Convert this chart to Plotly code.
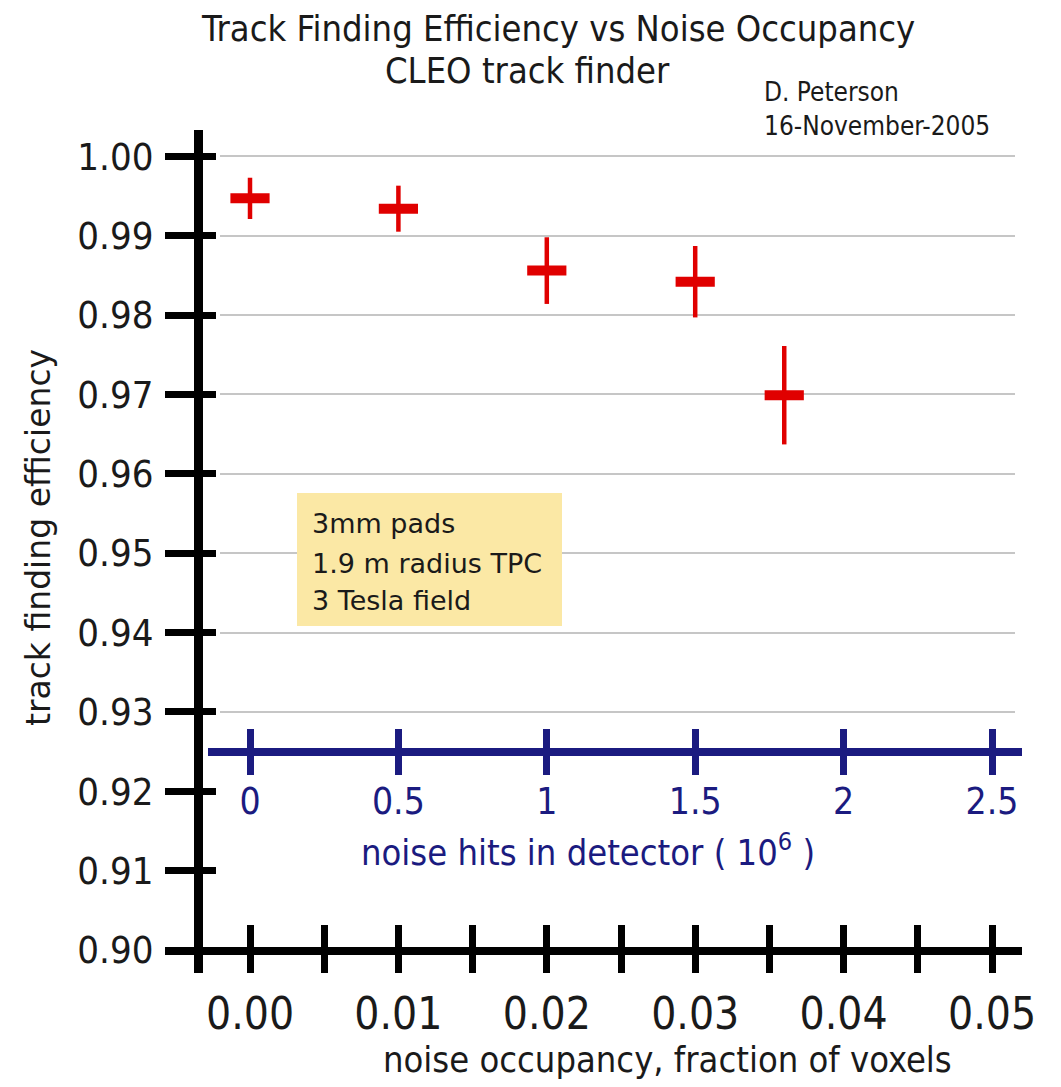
import plotly.graph_objects as go

W, H = 1045, 1071   # figure size; with the page's 8 px body margin it fills 1061 x 1087
PAGE_OFF = 8

# ---------------- data ----------------
occupancy = [0.000, 0.010, 0.020, 0.030, 0.036]
efficiency = [0.9947, 0.9934, 0.9856, 0.9842, 0.9699]
eff_err = [0.0026, 0.0029, 0.0042, 0.0045, 0.0062]

occ_ticks = [0.000, 0.005, 0.010, 0.015, 0.020, 0.025, 0.030, 0.035, 0.040, 0.045, 0.050]
occ_labels = ["0.00", "", "0.01", "", "0.02", "", "0.03", "", "0.04", "", "0.05"]
eff_ticks = [0.90, 0.91, 0.92, 0.93, 0.94, 0.95, 0.96, 0.97, 0.98, 0.99, 1.00]
eff_labels = ["0.90", "0.91", "0.92", "0.93", "0.94", "0.95", "0.96", "0.97", "0.98", "0.99", "1.00"]
grid_ticks = [0.93, 0.94, 0.95, 0.96, 0.97, 0.98, 0.99, 1.00]
hits_ticks = [0, 0.5, 1, 1.5, 2, 2.5]
hits_labels = ["0", "0.5", "1", "1.5", "2", "2.5"]
HITS_PER_OCC = 50  # 10^6 noise hits per unit occupancy

info_lines = ["3mm pads", "1.9 m radius TPC", "3 Tesla field"]

# ---------------- pixel calibration (screen pixels) ----------------
X0_PX, X_SCALE = 250.0, 14840.0   # px at occupancy 0, px per unit occupancy
Y0_PX, Y_SCALE = 950.0, 7937.0    # px at efficiency 0.90, px per unit efficiency


def occ_at(p):
    return (p - X0_PX) / X_SCALE


def eff_at(p):
    return 0.90 + (Y0_PX - p) / Y_SCALE


def px(p):
    return (p - PAGE_OFF) / W


def py(p):
    return 1 - (p - PAGE_OFF) / H


def xdom(p0, p1):
    return [px(p0), px(p1)]


def ydom(top, bottom):
    return [py(bottom), py(top)]


COND = "DejaVu Sans Condensed, DejaVu Sans, sans-serif"
NARROW = "Liberation Sans Narrow, Arial Narrow, DejaVu Sans Condensed, sans-serif"
TXT = "#1a1a1a"
NAVY = "#1b1b80"
RED = "#e00000"

fig = go.Figure()

# data
fig.add_trace(go.Scatter(
    x=occupancy, y=efficiency, xaxis="x3", yaxis="y3", mode="markers",
    marker=dict(symbol="line-ew", size=28, color=RED, line=dict(width=10, color=RED)),
    error_y=dict(type="data", array=eff_err, visible=True, thickness=4.5, width=0, color=RED),
    cliponaxis=False, showlegend=False, hoverinfo="x+y"))

# invisible helper traces so each decoration axis is rendered
for xa, ya in [("x", "y"), ("x2", "y"), ("x", "y2"), ("x4", "y"), ("x5", "y")]:
    fig.add_trace(go.Scatter(x=[None], y=[None], xaxis=xa, yaxis=ya, mode="markers",
                             showlegend=False, hoverinfo="skip"))

x_range = [occ_at(165), occ_at(1022)]
y_range = [eff_at(973), eff_at(130)]
hits_range = [occ_at(208) * HITS_PER_OCC, occ_at(1022) * HITS_PER_OCC]

common_off = dict(showgrid=False, zeroline=False, fixedrange=True, automargin=False)

fig.update_layout(
    width=W, height=H, autosize=False,
    margin=dict(l=0, r=0, t=0, b=0, pad=0, autoexpand=False),
    paper_bgcolor="white", plot_bgcolor="rgba(0,0,0,0)",
    showlegend=False,
    # black occupancy axis (bottom)
    xaxis=dict(domain=xdom(165, 1022), range=x_range, anchor="free", position=py(951),
               side="bottom", showline=True, linecolor="black", linewidth=8,
               ticks="outside", ticklen=18, tickwidth=7, tickcolor="black",
               tickvals=occ_ticks, ticktext=occ_labels, ticklabelstandoff=3,
               tickfont=dict(family=COND, size=44, color=TXT), **common_off),
    xaxis2=dict(overlaying="x", range=x_range, anchor="free", position=py(951),
                side="top", showline=False, ticks="outside", ticklen=26, tickwidth=7,
                tickcolor="black", tickvals=occ_ticks, showticklabels=False, **common_off),
    # black efficiency axis (left)
    yaxis=dict(domain=ydom(130, 973), range=y_range, anchor="free", position=px(198),
               side="left", showline=True, linecolor="black", linewidth=9,
               ticks="outside", ticklen=29, tickwidth=7, tickcolor="black",
               tickvals=eff_ticks, ticktext=eff_labels, ticklabelstandoff=4,
               tickfont=dict(family=COND, size=38, color=TXT), **common_off),
    yaxis2=dict(overlaying="y", range=y_range, anchor="free", position=px(198),
                side="right", showline=False, ticks="outside", ticklen=17, tickwidth=7,
                tickcolor="black", tickvals=eff_ticks, showticklabels=False, **common_off),
    # data subplot carrying the grid lines
    xaxis3=dict(domain=xdom(220, 1015), range=[occ_at(220), occ_at(1015)], anchor="y3",
                visible=False, fixedrange=True, automargin=False),
    yaxis3=dict(domain=ydom(130, 973), range=y_range, anchor="x3", showgrid=True,
                gridcolor="#c6c6c6", gridwidth=2, tickvals=grid_ticks, showticklabels=False,
                ticks="", showline=False, zeroline=False, fixedrange=True, automargin=False),
    # blue noise hits axis
    xaxis4=dict(domain=xdom(208, 1022), range=hits_range, anchor="free", position=py(752),
                side="bottom", showline=True, linecolor=NAVY, linewidth=8,
                ticks="outside", ticklen=19, tickwidth=7, tickcolor=NAVY,
                tickvals=hits_ticks, ticktext=hits_labels, ticklabelstandoff=-5,
                tickfont=dict(family=COND, size=37, color=NAVY), **common_off),
    xaxis5=dict(overlaying="x4", range=hits_range, anchor="free", position=py(752),
                side="top", showline=False, ticks="outside", ticklen=23, tickwidth=7,
                tickcolor=NAVY, tickvals=hits_ticks, showticklabels=False, **common_off),
)

# info box
fig.add_shape(type="rect", xref="paper", yref="paper", x0=px(297), x1=px(562),
              y0=py(626), y1=py(493), fillcolor="#fbe8a5", line=dict(width=0), layer="above")

ann = []
ann.append(dict(text="Track Finding Efficiency vs Noise Occupancy", x=px(558), y=py(28),
                font=dict(family=COND, size=36, color=TXT)))
ann.append(dict(text="CLEO track finder", x=px(527), y=py(70),
                font=dict(family=COND, size=36, color=TXT)))
ann.append(dict(text="D. Peterson", x=px(762), y=py(92), xanchor="left",
                font=dict(family=NARROW, size=26, color=TXT)))
ann.append(dict(text="16-November-2005", x=px(762), y=py(126), xanchor="left",
                font=dict(family=NARROW, size=26, color=TXT)))
for line, yy in zip(info_lines, [523, 563, 600]):
    ann.append(dict(text=line, x=px(310), y=py(yy), xanchor="left",
                    font=dict(family="DejaVu Sans, sans-serif", size=27, color=TXT)))
ann.append(dict(text="noise hits in detector ( 10<sup>6</sup> )", x=px(588), y=py(850),
                font=dict(family=COND, size=36, color=NAVY)))
ann.append(dict(text="noise occupancy, fraction of voxels", x=px(667), y=py(1059),
                font=dict(family=COND, size=36, color=TXT)))
ann.append(dict(text="track finding efficiency", x=px(38), y=py(538), textangle=-90,
                font=dict(family="DejaVu Sans, sans-serif", size=33, color=TXT)))

for a in ann:
    a.setdefault("xanchor", "center")
    a.update(xref="paper", yref="paper", yanchor="middle", showarrow=False)
    fig.add_annotation(**a)

fig.write_html("out.html")
